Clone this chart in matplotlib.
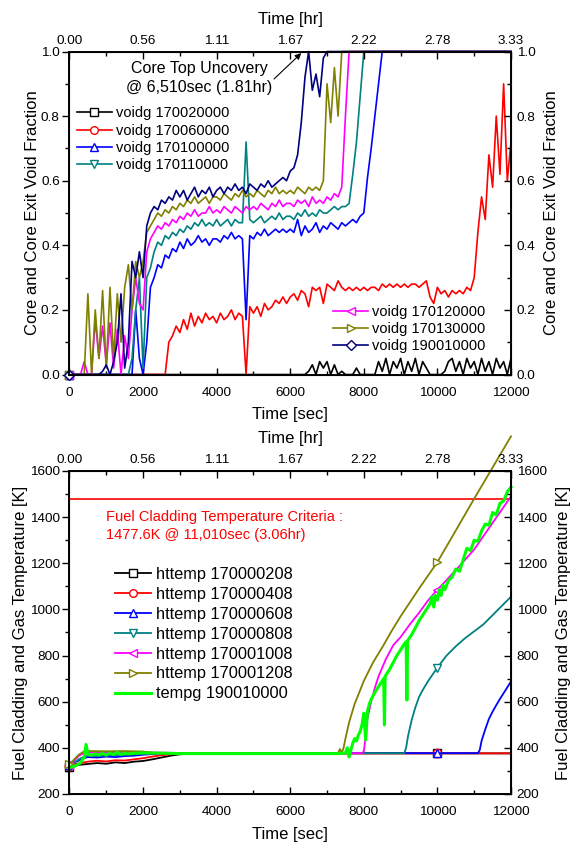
import numpy as np
import matplotlib
matplotlib.use('Agg')
import matplotlib.pyplot as plt
from matplotlib.lines import Line2D
from matplotlib.ticker import MultipleLocator

plt.rcParams['font.family'] = ['Liberation Sans', 'DejaVu Sans']

# ---------------- top panel: void fraction, sampled every 100 s ----------------
t_void = np.arange(0, 12001, 100)

voidg_170020000 = [
    0, 0, 0, 0, 0, 0, 0, 0, 0, 0,
    0, 0, 0, 0, 0, 0, 0, 0, 0, 0,
    0, 0, 0, 0, 0, 0, 0, 0, 0, 0,
    0, 0, 0, 0, 0, 0, 0, 0, 0, 0,
    0, 0, 0, 0, 0, 0, 0, 0, 0, 0,
    0, 0, 0, 0, 0, 0, 0, 0, 0, 0,
    0, 0, 0, 0, 0, 0.01, 0.03, 0, 0.04, 0.02,
    0.04, 0, 0.03, 0, 0.01, 0, 0, 0, 0.02, 0,
    0, 0, 0, 0, 0.04, 0.01, 0.05, 0, 0.04, 0.02,
    0.05, 0, 0.04, 0.01, 0.05, 0, 0.04, 0.02, 0, 0,
    0, 0, 0.01, 0.04, 0.05, 0.01, 0.04, 0, 0.05, 0.02,
    0.04, 0, 0.05, 0.01, 0.04, 0, 0.05, 0.02, 0.04, 0,
    0.05]
voidg_170060000 = [
    0, 0, 0, 0, 0, 0, 0, 0, 0, 0,
    0, 0, 0, 0, 0, 0, 0, 0, 0, 0,
    0, 0, 0, 0, 0, 0, 0, 0.10, 0.12, 0.15,
    0.13, 0.17, 0.14, 0.19, 0.15, 0.18, 0.16, 0.19, 0.17, 0.18,
    0.16, 0.19, 0.17, 0.18, 0.20, 0.17, 0.19, 0.18, 0.0, 0.21,
    0.19, 0.21, 0.18, 0.22, 0.20, 0.21, 0.23, 0.22, 0.24, 0.22,
    0.24, 0.25, 0.23, 0.26, 0.25, 0.21, 0.27, 0.26, 0.27, 0.22,
    0.28, 0.27, 0.26, 0.29, 0.27, 0.26, 0.27, 0.26, 0.27, 0.26,
    0.27, 0.26, 0.27, 0.27, 0.26, 0.28, 0.27, 0.28, 0.27, 0.28,
    0.27, 0.28, 0.27, 0.28, 0.28, 0.27, 0.28, 0.29, 0.24, 0.22,
    0.27, 0.25, 0.26, 0.24, 0.26, 0.25, 0.26, 0.25, 0.27, 0.26,
    0.30, 0.44, 0.55, 0.48, 0.68, 0.58, 0.80, 0.62, 0.90, 0.60,
    0.72]
voidg_170100000 = [
    0, 0, 0, 0, 0, 0, 0, 0, 0, 0,
    0, 0, 0, 0, 0, 0, 0, 0, 0.20, 0.05,
    0, 0.10, 0.27, 0.30, 0.34, 0.33, 0.37, 0.36, 0.39, 0.38,
    0.41, 0.39, 0.42, 0.40, 0.41, 0.43, 0.41, 0.42, 0.40, 0.42,
    0.42, 0.41, 0.43, 0.42, 0.44, 0.42, 0.43, 0.42, 0.17, 0.43,
    0.42, 0.44, 0.43, 0.45, 0.43, 0.44, 0.45, 0.44, 0.45, 0.44,
    0.45, 0.44, 0.48, 0.43, 0.46, 0.44, 0.45, 0.47, 0.44, 0.46,
    0.45, 0.47, 0.46, 0.45, 0.47, 0.46, 0.47, 0.48, 0.47, 0.49,
    0.50, 0.61, 0.70, 0.80, 0.90, 1, 1, 1, 1, 1,
    1, 1, 1, 1, 1, 1, 1, 1, 1, 1,
    1, 1, 1, 1, 1, 1, 1, 1, 1, 1,
    1, 1, 1, 1, 1, 1, 1, 1, 1, 1,
    1]
voidg_170110000 = [
    0, 0, 0, 0, 0, 0, 0, 0, 0, 0,
    0, 0, 0, 0, 0, 0, 0, 0.05, 0.20, 0.30,
    0.02, 0.30, 0.33, 0.38, 0.41, 0.40, 0.43, 0.42, 0.44, 0.43,
    0.45, 0.44, 0.46, 0.45, 0.47, 0.46, 0.48, 0.46, 0.47, 0.46,
    0.48, 0.46, 0.47, 0.48, 0.46, 0.48, 0.47, 0.47, 0.72, 0.48,
    0.47, 0.48, 0.49, 0.47, 0.48, 0.49, 0.48, 0.50, 0.48, 0.49,
    0.49, 0.48, 0.50, 0.49, 0.51, 0.49, 0.50, 0.49, 0.51, 0.50,
    0.50, 0.51, 0.52, 0.51, 0.52, 0.52, 0.53, 0.62, 0.72, 0.86,
    1, 1, 1, 1, 1, 1, 1, 1, 1, 1,
    1, 1, 1, 1, 1, 1, 1, 1, 1, 1,
    1, 1, 1, 1, 1, 1, 1, 1, 1, 1,
    1, 1, 1, 1, 1, 1, 1, 1, 1, 1,
    1]
voidg_170120000 = [
    0, 0, 0, 0, 0.04, 0, 0, 0.17, 0.05, 0.15,
    0.03, 0.16, 0.02, 0.14, 0, 0.12, 0.05, 0.20, 0.30, 0.22,
    0.20, 0.38, 0.42, 0.44, 0.46, 0.45, 0.47, 0.46, 0.48, 0.47,
    0.49, 0.48, 0.50, 0.49, 0.51, 0.49, 0.50, 0.50, 0.52, 0.50,
    0.51, 0.50, 0.52, 0.51, 0.50, 0.52, 0.51, 0.50, 0.52, 0.51,
    0.52, 0.51, 0.53, 0.52, 0.51, 0.53, 0.52, 0.54, 0.52, 0.53,
    0.53, 0.52, 0.54, 0.53, 0.54, 0.52, 0.55, 0.53, 0.54, 0.53,
    0.55, 0.54, 0.56, 0.55, 0.58, 0.80, 1, 1, 1, 1,
    1, 1, 1, 1, 1, 1, 1, 1, 1, 1,
    1, 1, 1, 1, 1, 1, 1, 1, 1, 1,
    1, 1, 1, 1, 1, 1, 1, 1, 1, 1,
    1, 1, 1, 1, 1, 1, 1, 1, 1, 1,
    1]
voidg_170130000 = [
    0, 0, 0, 0, 0, 0.25, 0, 0.20, 0.05, 0.26,
    0.02, 0.27, 0.05, 0.25, 0.10, 0.27, 0.34, 0.20, 0.35, 0.30,
    0.35, 0.44, 0.46, 0.48, 0.50, 0.49, 0.51, 0.50, 0.52, 0.51,
    0.53, 0.52, 0.54, 0.53, 0.55, 0.53, 0.54, 0.55, 0.53, 0.55,
    0.55, 0.54, 0.56, 0.55, 0.54, 0.56, 0.55, 0.57, 0.55, 0.56,
    0.55, 0.57, 0.56, 0.55, 0.57, 0.56, 0.58, 0.56, 0.57, 0.56,
    0.57, 0.56, 0.58, 0.57, 0.56, 0.58, 0.57, 0.58, 0.57, 0.60,
    0.90, 0.78, 0.95, 0.80, 1, 1, 1, 1, 1, 1,
    1, 1, 1, 1, 1, 1, 1, 1, 1, 1,
    1, 1, 1, 1, 1, 1, 1, 1, 1, 1,
    1, 1, 1, 1, 1, 1, 1, 1, 1, 1,
    1, 1, 1, 1, 1, 1, 1, 1, 1, 1,
    1]
voidg_190010000 = [
    0, 0, 0, 0, 0, 0, 0, 0, 0, 0.01,
    0.03, 0, 0.04, 0.10, 0.25, 0.02, 0.10, 0.35, 0.30, 0.38,
    0.30, 0.46, 0.50, 0.52, 0.51, 0.54, 0.53, 0.55, 0.54, 0.57,
    0.55, 0.57, 0.54, 0.56, 0.58, 0.55, 0.57, 0.56, 0.58, 0.55,
    0.57, 0.58, 0.56, 0.58, 0.57, 0.59, 0.57, 0.58, 0.56, 0.59,
    0.58, 0.57, 0.59, 0.58, 0.60, 0.58, 0.59, 0.60, 0.61, 0.60,
    0.63, 0.64, 0.68, 0.78, 0.92, 1, 0.88, 0.93, 0.86, 0.98,
    1, 1, 1, 1, 1, 1, 1, 1, 1, 1,
    1, 1, 1, 1, 1, 1, 1, 1, 1, 1,
    1, 1, 1, 1, 1, 1, 1, 1, 1, 1,
    1, 1, 1, 1, 1, 1, 1, 1, 1, 1,
    1, 1, 1, 1, 1, 1, 1, 1, 1, 1,
    1]

void_names = ['voidg 170020000', 'voidg 170060000', 'voidg 170100000', 'voidg 170110000',
              'voidg 170120000', 'voidg 170130000', 'voidg 190010000']
void_series = [voidg_170020000, voidg_170060000, voidg_170100000, voidg_170110000,
               voidg_170120000, voidg_170130000, voidg_190010000]

# ---------------- bottom panel: temperatures ----------------
t_208 = [0, 100, 250, 500, 750, 1000, 1250, 1500, 1750, 2000, 2250, 2500, 2750, 3000, 3500, 10000, 12000]
T_208 = [318, 324, 326, 330, 334, 331, 337, 334, 340, 343, 350, 358, 366, 372, 376, 376, 376]
t_408 = [0, 100, 250, 500, 750, 1000, 1250, 1500, 1750, 2000, 2250, 2500, 2750, 3000, 10000, 12000]
T_408 = [322, 328, 333, 340, 344, 341, 346, 345, 350, 355, 362, 368, 372, 375, 376, 376]
t_608 = [0, 100, 250, 400, 500, 750, 1000, 1250, 1500, 1750, 2000, 2250, 2500, 3000, 10000,
         11100, 11150, 11200, 11300, 11400, 11500, 11600, 11700, 11800, 11900, 12000]
T_608 = [325, 335, 345, 356, 360, 358, 362, 360, 364, 366, 370, 373, 376, 377, 377,
         377, 390, 430, 480, 525, 557, 585, 612, 637, 662, 688]
t_808 = [0, 100, 250, 400, 500, 750, 1000, 1500, 2000, 2500, 9100, 9150, 9200, 9300, 9400, 9500,
         9600, 9750, 10000, 10250, 10500, 10750, 11000, 11250, 11500, 11750, 12000]
T_808 = [320, 332, 350, 362, 366, 364, 368, 370, 374, 377, 377, 400, 450, 520, 575, 620,
         650, 690, 748, 800, 840, 875, 905, 935, 975, 1015, 1055]
t_1008 = [0, 100, 250, 400, 500, 1000, 2000, 3000, 7950, 8000, 8050, 8100, 8200, 8300, 8400,
          8600, 8800, 9000, 9250, 9500, 9750, 10000, 10500, 11000, 11500, 12000]
T_1008 = [325, 340, 365, 378, 380, 379, 380, 378, 377, 385, 450, 530, 600, 660, 710,
          785, 845, 880, 935, 985, 1040, 1085, 1170, 1260, 1375, 1490]
t_1208 = [0, 100, 250, 400, 500, 1000, 1500, 2000, 2300, 2500, 7300, 7350, 7400, 7450, 7500,
          7600, 7750, 8000, 8250, 8500, 8750, 9000, 9500, 10000, 10500, 11000, 11500, 12000]
T_1208 = [330, 345, 370, 385, 386, 385, 386, 384, 378, 377, 377, 395, 378, 400, 440,
          510, 590, 690, 770, 835, 905, 970, 1090, 1205, 1342, 1480, 1615, 1750]
t_gas = [0, 100, 200, 300, 400, 450, 500, 600, 700, 800, 900, 1000, 1100, 1200, 1300, 1400,
         1500, 1600, 1800, 2000, 2500, 3000, 7300, 7400, 7500, 7550, 7600, 7650, 7700, 7750,
         7800, 7850, 7900, 7950, 8000, 8050, 8100, 8150, 8200, 8300, 8400, 8500, 8540, 8560,
         8580, 8700, 8800, 8900, 9000, 9100, 9150, 9170, 9190, 9300, 9400, 9500, 9600, 9700,
         9800, 9850, 9900, 9950, 10000, 10050, 10100, 10150, 10200, 10300, 10400, 10500,
         10600, 10700, 10800, 10900, 11000, 11100, 11200, 11300, 11400, 11500, 11600, 11700,
         11800, 11900, 12000]
T_gas = [315, 318, 325, 335, 360, 415, 372, 368, 374, 370, 376, 368, 377, 371, 380, 372,
         376, 374, 377, 378, 377, 375, 375, 376, 378, 400, 360, 392, 420, 440,
         430, 455, 470, 500, 550, 434, 560, 590, 610, 640, 665, 690, 700, 499,
         710, 740, 770, 800, 825, 850, 860, 607, 865, 890, 920, 950, 975, 1000,
         1025, 1055, 1010, 1060, 1040, 1085, 1060, 1105, 1085, 1125, 1140, 1175,
         1165, 1215, 1265, 1255, 1300, 1295, 1340, 1370, 1365, 1420, 1410, 1460,
         1470, 1510, 1530]

temp_names = ['httemp 170000208', 'httemp 170000408', 'httemp 170000608', 'httemp 170000808',
              'httemp 170001008', 'httemp 170001208', 'tempg 190010000']
temp_t = [t_208, t_408, t_608, t_808, t_1008, t_1208, t_gas]
temp_T = [T_208, T_408, T_608, T_808, T_1008, T_1208, T_gas]

criteria_T = 1477.6

colors = ['#000000', '#FF0000', '#0000FF', '#008080', '#FF00FF', '#808000', '#000080']
markers = ['s', 'o', '^', 'v', '<', '>', 'D']
gas_color = '#00FF00'

fig = plt.figure(figsize=(5.71, 8.46), dpi=100)
ax1 = fig.add_axes([0.1217, 0.5573, 0.7732, 0.3818])
ax2 = fig.add_axes([0.1217, 0.0615, 0.7732, 0.3818])


def dress(ax, ylim, ymaj, ymin, ylabel, fmt):
    ax.set_xlim(0, 12000)
    ax.set_ylim(*ylim)
    ax.xaxis.set_major_locator(MultipleLocator(2000))
    ax.xaxis.set_minor_locator(MultipleLocator(1000))
    ax.yaxis.set_major_locator(MultipleLocator(ymaj))
    ax.yaxis.set_minor_locator(MultipleLocator(ymin))
    ax.yaxis.set_major_formatter(fmt)
    ax.tick_params(axis='x', which='both', direction='in', top=False, labelsize=9.7, pad=9)
    ax.tick_params(axis='y', which='both', direction='out', right=False, labelsize=9.7, pad=2)
    ax.tick_params(which='major', length=5, width=1)
    ax.tick_params(which='minor', length=3, width=1)
    ax.set_xlabel('Time [sec]', fontsize=12, labelpad=6)
    ax.set_ylabel(ylabel, fontsize=12, labelpad=1)
    for s in ax.spines.values():
        s.set_linewidth(1.2)

    top = ax.twiny()
    top.set_xlim(0, 12000)
    top.xaxis.set_major_locator(MultipleLocator(2000))
    top.xaxis.set_minor_locator(MultipleLocator(1000))
    top.set_xticklabels(['%.2f' % (v / 3600) for v in top.get_xticks()])
    top.tick_params(axis='x', which='both', direction='in', labelsize=9.7, pad=3.5)
    top.tick_params(which='major', length=5, width=1)
    top.tick_params(which='minor', length=3, width=1)
    top.set_xlabel('Time [hr]', fontsize=12, labelpad=8)

    right = ax.twinx()
    right.set_ylim(*ylim)
    right.yaxis.set_major_locator(MultipleLocator(ymaj))
    right.yaxis.set_minor_locator(MultipleLocator(ymin))
    right.yaxis.set_major_formatter(fmt)
    right.tick_params(axis='y', which='both', direction='in', labelsize=9.7, pad=4)
    right.tick_params(which='major', length=5, width=1)
    right.tick_params(which='minor', length=3, width=1)
    right.set_ylabel(ylabel, fontsize=12, labelpad=6.5)
    for s in top.spines.values():
        s.set_linewidth(1.2)


# top panel lines
for vals, c, m in zip(void_series, colors, markers):
    ax1.plot(t_void, vals, color=c, lw=1.2, marker=m, ms=5.5, mfc='white', mec=c,
             mew=1, markevery=[0], clip_on=False)

void_handles = [Line2D([], [], color=c, lw=1.2, marker=m, ms=5.5, mfc='white', mec=c, mew=1)
                for c, m in zip(colors, markers)]
leg1 = ax1.legend(void_handles[:4], void_names[:4], loc='upper left',
                  bbox_to_anchor=(0.017, 0.83), frameon=False, fontsize=10.5,
                  handlelength=2.4, handletextpad=0.3, labelspacing=0.22,
                  borderpad=0, borderaxespad=0, numpoints=1)
ax1.add_artist(leg1)
ax1.legend(void_handles[4:], void_names[4:], loc='upper left',
           bbox_to_anchor=(0.597, 0.214), frameon=False, fontsize=10.5,
           handlelength=2.4, handletextpad=0.3, labelspacing=0.2,
           borderpad=0, borderaxespad=0, numpoints=1)

ax1.text(3520, 0.918, 'Core Top Uncovery\n@ 6,510sec (1.81hr)', ha='center', va='center',
         multialignment='center', fontsize=11.5, linespacing=1.3)
ax1.annotate('', xy=(6300, 0.995), xytext=(5560, 0.915),
             arrowprops=dict(arrowstyle='-|>', color='k', lw=0.8, shrinkA=0, shrinkB=0,
                             mutation_scale=9))

dress(ax1, (0, 1.0), 0.2, 0.1, 'Core and Core Exit Void Fraction', '{x:.1f}')

# bottom panel lines
ax2.axhline(criteria_T, color='#FF0000', lw=1.2)
for tt, TT, c, m in zip(temp_t[:6], temp_T[:6], colors[:6], markers[:6]):
    idx = [i for i, v in enumerate(tt) if v in (0, 10000)]
    ax2.plot(tt, TT, color=c, lw=1.3, marker=m, ms=6, mfc='white', mec=c, mew=1,
             markevery=idx, clip_on=False)
ax2.plot(t_gas, T_gas, color=gas_color, lw=2.2, clip_on=False)

temp_handles = [Line2D([], [], color=c, lw=1.3, marker=m, ms=5.5, mfc='white', mec=c, mew=1)
                for c, m in zip(colors[:6], markers[:6])]
temp_handles.append(Line2D([], [], color=gas_color, lw=2.2))
ax2.legend(temp_handles, temp_names, loc='upper left', bbox_to_anchor=(0.103, 0.703),
           frameon=False, fontsize=11.8, handlelength=2.2, handletextpad=0.3,
           labelspacing=0.3, borderpad=0, borderaxespad=0, numpoints=1)

red_font = ['Liberation Sans Narrow', 'Liberation Sans', 'DejaVu Sans']
ax2.text(1000, 1400, 'Fuel Cladding Temperature Criteria :', color='#FF0000', fontsize=10.5,
         va='center', ha='left', family=red_font)
ax2.text(1000, 1321, '1477.6K @ 11,010sec (3.06hr)', color='#FF0000', fontsize=10.5,
         va='center', ha='left', family=red_font)

dress(ax2, (200, 1600), 200, 100, 'Fuel Cladding and Gas Temperature [K]', '{x:.0f}')

fig.savefig('out.png', dpi=100)
